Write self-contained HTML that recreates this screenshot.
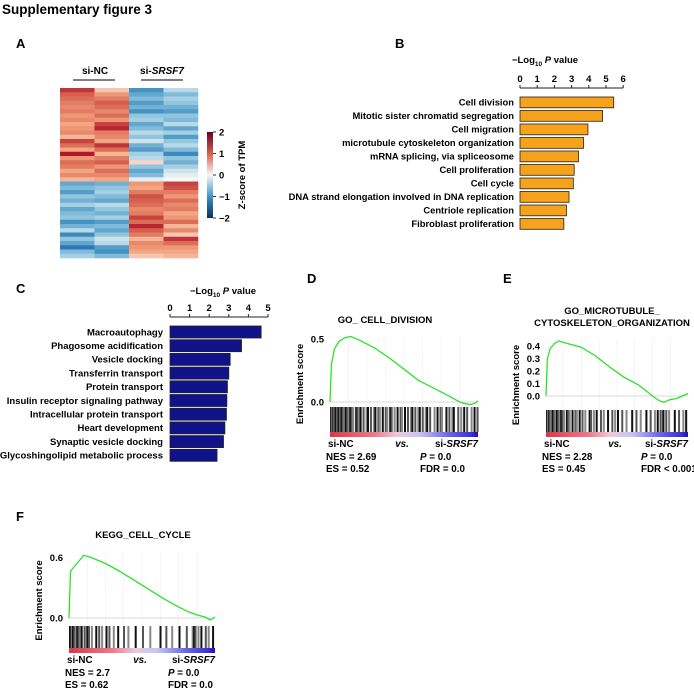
<!DOCTYPE html>
<html><head><meta charset="utf-8"><style>
body{margin:0;background:#fff}
svg{display:block;font-family:"Liberation Sans",sans-serif;font-weight:bold}
</style></head><body>
<svg id="fig" width="694" height="692" viewBox="0 0 694 692" xmlns="http://www.w3.org/2000/svg">
<text x="2" y="14" font-size="13.5">Supplementary figure 3</text>
<text x="16" y="48" font-size="13">A</text>
<text x="395" y="48" font-size="13">B</text>
<text x="16" y="293" font-size="13">C</text>
<text x="307" y="283" font-size="13">D</text>
<text x="503" y="283" font-size="13">E</text>
<text x="16" y="521" font-size="13">F</text>
<text x="95" y="74" font-size="10" text-anchor="middle">si-NC</text>
<text x="162" y="74" font-size="10" text-anchor="middle">si-<tspan font-style="italic">SRSF7</tspan></text>
<line x1="73" y1="80" x2="115" y2="80" stroke="#333" stroke-width="1.2"/>
<line x1="141" y1="80" x2="183" y2="80" stroke="#333" stroke-width="1.2"/>
<g id="heat"></g>
<defs><linearGradient id="cbar" x1="0" y1="0" x2="0" y2="1">
<stop offset="0" stop-color="#67001f"/><stop offset="0.25" stop-color="#d6604d"/><stop offset="0.5" stop-color="#f7f7f7"/><stop offset="0.75" stop-color="#4393c3"/><stop offset="1" stop-color="#053061"/></linearGradient>
<linearGradient id="rank" x1="0" y1="0" x2="1" y2="0">
<stop offset="0" stop-color="#d9384a"/><stop offset="0.3" stop-color="#ee7a88"/><stop offset="0.45" stop-color="#ecc8dc"/><stop offset="0.6" stop-color="#c9c6f0"/><stop offset="0.8" stop-color="#6b66e8"/><stop offset="0.95" stop-color="#3a33d6"/><stop offset="1" stop-color="#1c10b8"/></linearGradient></defs>
<rect x="207" y="132" width="6" height="86" fill="url(#cbar)"/>
<g id="cbticks" font-size="9.5"></g>
<text font-size="9.5" transform="translate(245,175) rotate(-90)" text-anchor="middle">Z-score of TPM</text>
<g id="barB"></g><g id="barC"></g>
<g id="gD"></g><g id="gE"></g><g id="gF"></g>
</svg>
<script>
const NS='http://www.w3.org/2000/svg';
function mk(parent,tag,attrs,txt){const e=document.createElementNS(NS,tag);for(const k in attrs)e.setAttribute(k,attrs[k]);if(txt!==undefined)e.textContent=txt;parent.appendChild(e);return e;}
const heatCol1=[1.3,1.0,0.9,0.8,0.7,0.8,0.6,0.7,0.5,0.6,0.7,0.4,1.2,0.9,0.5,1.5,0.6,0.9,0.8,0.5,0.7,0.4,-0.8,-0.6,-0.9,-0.5,-0.7,-0.4,-0.8,-0.6,-0.5,-1.0,-0.7,-0.3,-1.1,-0.5,-0.8,-1.3,-0.6,-0.4];
const heatCol2=[0.3,0.6,0.8,1.0,0.9,0.7,0.9,0.6,1.2,1.4,0.8,0.7,0.5,1.3,0.9,0.4,0.8,1.0,0.6,0.9,0.7,0.5,-0.7,-0.5,-0.4,-0.6,-0.8,-0.3,-0.5,-0.7,-0.4,-0.9,-0.6,-0.8,-0.5,-0.2,-0.3,-0.9,-1.0,-0.6];
const heatCol3=[-1.0,-0.8,-0.6,-0.9,-0.7,-1.0,-0.5,-0.4,-0.8,-0.6,-0.3,-0.5,-0.2,-0.7,-0.9,-0.4,-0.3,0.2,-0.5,-0.8,-0.6,-0.1,0.6,0.5,0.8,1.1,1.0,0.9,0.7,0.8,1.2,0.9,1.4,1.0,0.8,0.4,0.7,0.6,0.5,0.3];
const heatCol4=[-0.3,-0.6,-0.4,-0.5,-0.7,-0.9,-0.5,-0.6,-0.3,-0.8,-0.4,-0.9,-0.5,-0.3,-0.6,-1.1,-0.5,-0.7,-0.4,-0.2,-0.1,0.0,1.2,1.1,0.8,0.6,0.9,0.7,0.8,0.5,0.6,0.9,0.4,0.7,0.3,1.3,0.9,0.6,0.5,0.4];
const cbTicks=[2,1,0,-1,-2];
const bTerms=["Cell division","Mitotic sister chromatid segregation","Cell migration","microtubule cytoskeleton organization","mRNA splicing, via spliceosome","Cell proliferation","Cell cycle","DNA strand elongation involved in DNA replication","Centriole replication","Fibroblast proliferation"];
const bValues=[5.45,4.8,3.95,3.7,3.4,3.15,3.1,2.85,2.7,2.55];
const bTicks=[0,1,2,3,4,5,6];
const cTerms=["Macroautophagy","Phagosome acidification","Vesicle docking","Transferrin transport","Protein transport","Insulin receptor signaling pathway","Intracellular protein transport","Heart development","Synaptic vesicle docking","Glycoshingolipid metabolic process"];
const cValues=[4.65,3.65,3.07,3.0,2.93,2.9,2.88,2.8,2.73,2.4];
const cTicks=[0,1,2,3,4,5];
const dRank=[0,0.01,0.03,0.06,0.1,0.14,0.2,0.3,0.4,0.5,0.6,0.7,0.8,0.86,0.9,0.95,0.98,1];
const dES=[0,0.3,0.42,0.48,0.51,0.52,0.49,0.43,0.35,0.26,0.17,0.11,0.05,0.01,-0.01,-0.02,-0.01,0.01];
const dHits=[0,0.005,0.01,0.015,0.02,0.025,0.03,0.04,0.045,0.05,0.06,0.065,0.07,0.08,0.09,0.1,0.11,0.12,0.13,0.14,0.15,0.17,0.18,0.19,0.2,0.22,0.24,0.25,0.27,0.29,0.3,0.32,0.33,0.35,0.37,0.38,0.4,0.41,0.43,0.45,0.47,0.48,0.5,0.52,0.54,0.55,0.57,0.59,0.6,0.62,0.64,0.65,0.67,0.7,0.72,0.74,0.75,0.78,0.8,0.82,0.83,0.86,0.88,0.9,0.92,0.95,0.97,0.99];
const eRank=[0,0.01,0.03,0.06,0.09,0.15,0.25,0.35,0.45,0.55,0.65,0.75,0.8,0.83,0.87,0.92,0.96,1];
const eES=[0,0.3,0.38,0.42,0.44,0.42,0.39,0.32,0.23,0.15,0.09,0.0,-0.04,-0.05,-0.03,-0.02,0.0,0.02];
const eHits=[0,0.005,0.01,0.015,0.02,0.03,0.04,0.05,0.06,0.07,0.08,0.09,0.1,0.11,0.12,0.14,0.15,0.16,0.18,0.2,0.21,0.23,0.25,0.27,0.3,0.31,0.33,0.35,0.38,0.4,0.43,0.46,0.48,0.5,0.53,0.56,0.6,0.63,0.66,0.7,0.73,0.76,0.78,0.8,0.81,0.82,0.84,0.86,0.9,0.93,0.96,0.98];
const fRank=[0,0.01,0.03,0.06,0.1,0.15,0.25,0.35,0.45,0.55,0.65,0.75,0.82,0.88,0.93,0.97,1];
const fES=[0,0.46,0.5,0.55,0.62,0.6,0.54,0.46,0.37,0.28,0.19,0.11,0.06,0.03,0.01,-0.02,0.01];
const fHits=[0,0.01,0.015,0.02,0.03,0.04,0.05,0.06,0.07,0.08,0.1,0.11,0.12,0.13,0.15,0.18,0.2,0.22,0.25,0.27,0.3,0.33,0.37,0.4,0.45,0.5,0.55,0.62,0.66,0.7,0.75,0.8,0.84,0.85,0.86,0.88,0.9,0.93,0.95,0.98];

function rdbu(z){z=Math.max(-2,Math.min(2,z))/2;
 const pos=[[247,247,247],[244,165,130],[214,96,77],[178,24,43],[103,0,31]];
 const neg=[[247,247,247],[146,197,222],[67,147,195],[33,102,172],[5,48,97]];
 const arr=z>=0?pos:neg;const t=Math.abs(z)*4;const i=Math.min(3,Math.floor(t));const f=t-i;
 const c=arr[i].map((v,k)=>Math.round(v+(arr[i+1][k]-v)*f));return `rgb(${c})`;}
const heat=document.getElementById('heat');
const cols=[heatCol1,heatCol2,heatCol3,heatCol4];
const hx0=60,hx1=198,hy0=88,hy1=258;
const cw=(hx1-hx0)/cols.length,rh=(hy1-hy0)/heatCol1.length;
cols.forEach((col,ci)=>col.forEach((z,ri)=>{
 const r=mk(heat,'rect',{x:hx0+ci*cw,y:hy0+ri*rh,width:cw+0.3,height:rh+0.3,fill:rdbu(z)});
 
 
}));
const cbt=document.getElementById('cbticks');
cbTicks.forEach(v=>{const y=175-v*21.5;
 const l=mk(cbt,'line',{x1:213,x2:216,y1:y,y2:y,stroke:'#333'});
 
 
 const t=mk(cbt,'text',{x:219,y:y+3.5},v<0?'\u2212'+(-v):String(v));
 
 
});

function barChart(gid,terms,vals,ticks,x0,scale,axisY,barTop,step,barH,fill,titleX,titleY,labelX,fs){
 const g=document.getElementById(gid);
 const sx=v=>x0+v*scale;
 const t=mk(g,'text',{x:titleX,y:titleY,'font-size':9.5,'text-anchor':'middle'});
 t.innerHTML='\u2212Log<tspan font-size="6.5" dy="3">10</tspan><tspan dy="-3" font-style="italic"> P</tspan> value';
 
 
 const ax=mk(g,'line',{x1:sx(ticks[0]),x2:sx(ticks[ticks.length-1]),y1:axisY,y2:axisY,stroke:'#222','stroke-width':1});
 
 
 ticks.forEach(v=>{
  const tl=mk(g,'line',{x1:sx(v),x2:sx(v),y1:axisY,y2:axisY-3,stroke:'#222'});
  
  
  const tx=mk(g,'text',{x:sx(v),y:axisY-6,'font-size':9.5,'text-anchor':'middle'},String(v));
  
  
 });
 vals.forEach((v,i)=>{
  const y=barTop+i*step;
  const r=mk(g,'rect',{x:sx(0),y:y,width:sx(v)-sx(0),height:barH,fill:fill,stroke:'#222','stroke-width':0.8});
  
  
  const l=mk(g,'text',{x:labelX,y:y+barH/2+3.3,'font-size':fs,'text-anchor':'end'},terms[i]);
  
  
 });
}
barChart('barB',bTerms,bValues,bTicks,520,17.2,88,97,13.5,10.8,'#f7a21b',545,63,514,9.4);
barChart('barC',cTerms,cValues,cTicks,170,19.6,317,326,13.7,12,'#10128a',223,294,163,9.5);

function gsea(gid,rank,es,hits,o){
 const g=document.getElementById(gid);
 const sx=f=>o.x0+f*(o.x1-o.x0);
 const sy=v=>o.y0-v*o.yScale;
 for(let i=1;i<8;i++){const gx=o.x0+i*(o.x1-o.x0)/8;
  const gl=mk(g,'line',{x1:gx,x2:gx,y1:o.top,y2:o.hitTop,stroke:'#eee','stroke-width':0.6});
  
  }
 const zl=mk(g,'line',{x1:o.x0,x2:o.x1,y1:sy(0),y2:sy(0),stroke:'#ccc','stroke-width':0.8});
 
 
 o.ticks.forEach(v=>{
  const t=mk(g,'text',{x:o.x0-6,y:sy(v)+3.5,'font-size':9.5,'text-anchor':'end'},v.toFixed(1));
  
  
 });
 const pts=rank.map((r,i)=>sx(r).toFixed(1)+','+sy(es[i]).toFixed(1)).join(' ');
 const pl=mk(g,'polyline',{points:pts,fill:'none',stroke:'#2de02d','stroke-width':1.3,'stroke-linejoin':'round'});
 
 
 const hb=mk(g,'rect',{x:o.x0,y:o.hitTop,width:o.x1-o.x0,height:o.hitBot-o.hitTop,fill:'#fff'});
 
 
 hits.forEach((h,i)=>{
  const shade=i%3===1?'#555':(i%3===2?'#888':'#111');
  const hl=mk(g,'rect',{x:sx(h),y:o.hitTop,width:2,height:o.hitBot-o.hitTop,fill:shade});
  
  
 });
 const rb=mk(g,'rect',{x:o.x0,y:o.hitBot,width:o.x1-o.x0,height:5,fill:'url(#rank)'});
 
 
 const yl=mk(g,'text',{'font-size':9.5,'text-anchor':'middle',transform:`translate(${o.x0-27},${(o.top+o.hitBot)/2}) rotate(-90)`},'Enrichment score');
 
 
 o.title.forEach((tt,i)=>{
  const t=mk(g,'text',{x:o.tx,y:o.ty+i*12,'font-size':9.5,'text-anchor':'middle'},tt);
  
  
 });
 const ly=o.hitBot+15;
 const a=mk(g,'text',{x:o.x0-2,y:ly,'font-size':9.8},'si-NC');
 
 
 const b=mk(g,'text',{x:(o.x0+o.x1)/2-2,y:ly,'font-size':9.8,'font-style':'italic','text-anchor':'middle'},'vs.');
 
 
 const c=mk(g,'text',{x:o.x1,y:ly,'font-size':9.8,'text-anchor':'end'});
 c.innerHTML='si-<tspan font-style="italic">SRSF7</tspan>';
 
 
 const s1=mk(g,'text',{x:o.x0-4,y:ly+13,'font-size':9.8},o.nes);
 
 
 const s2=mk(g,'text',{x:o.x0-4,y:ly+25,'font-size':9.8},o.es);
 
 
 const s3=mk(g,'text',{x:o.px,y:ly+13,'font-size':9.8});
 s3.innerHTML='<tspan font-style="italic">P</tspan> = 0.0';
 
 
 const s4=mk(g,'text',{x:o.px,y:ly+25,'font-size':9.8},o.fdr);
 
 
}
gsea('gD',dRank,dES,dHits,{x0:330,x1:478,y0:402,yScale:126,top:336,hitTop:407,hitBot:432,ticks:[0.5,0.0],title:['GO_ CELL_DIVISION'],tx:385,ty:323,nes:'NES = 2.69',es:'ES = 0.52',fdr:'FDR = 0.0',px:420});
gsea('gE',eRank,eES,eHits,{x0:546,x1:688,y0:396,yScale:125,top:338,hitTop:410,hitBot:432,ticks:[0.4,0.3,0.2,0.1,0.0],title:['GO_MICROTUBULE_','CYTOSKELETON_ORGANIZATION'],tx:612,ty:314,nes:'NES = 2.28',es:'ES = 0.45',fdr:'FDR < 0.001',px:641});
gsea('gF',fRank,fES,fHits,{x0:69,x1:215,y0:618,yScale:101,top:553,hitTop:626,hitBot:648,ticks:[0.6,0.0],title:['KEGG_CELL_CYCLE'],tx:143,ty:538,nes:'NES = 2.7',es:'ES = 0.62',fdr:'FDR = 0.0',px:168});
</script>
</body></html>
